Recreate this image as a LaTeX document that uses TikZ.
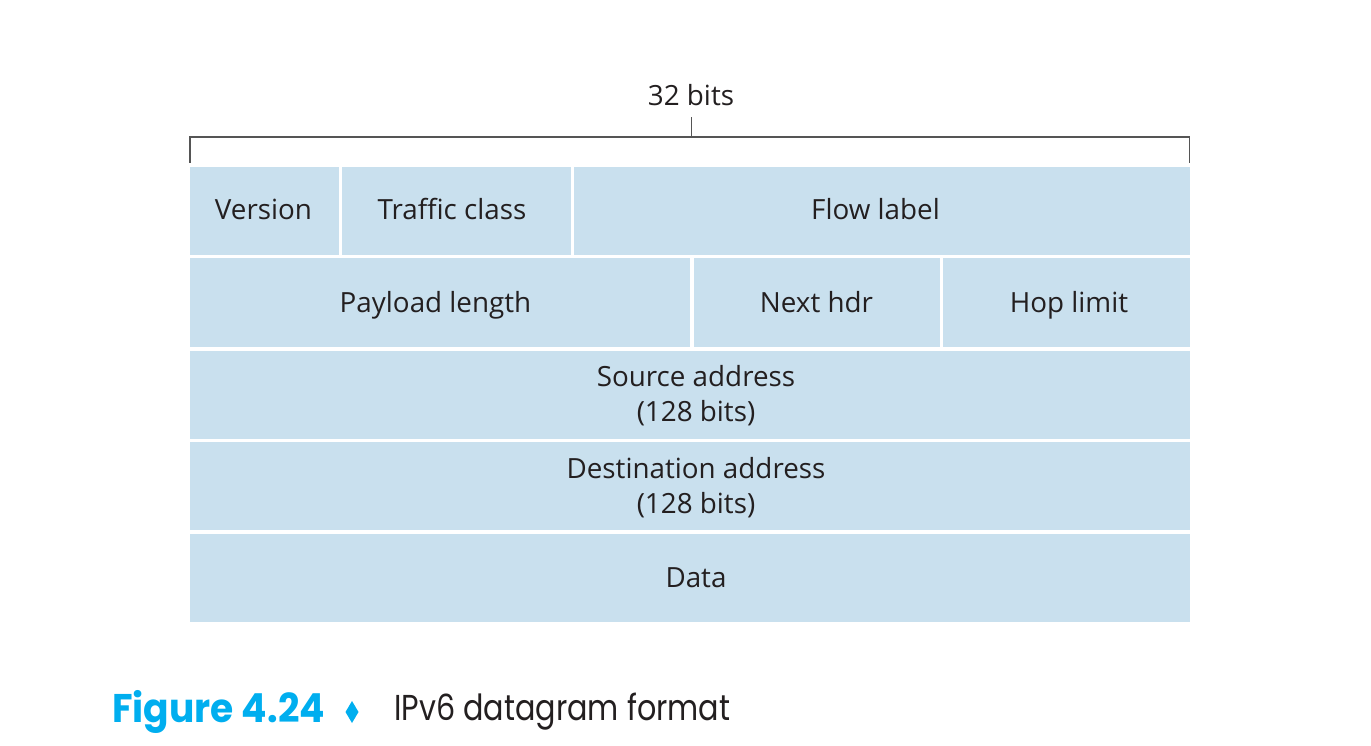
\documentclass[tikz,border=0pt]{standalone}
\usepackage{fontspec}
\setmainfont{Open Sans}
\newfontfamily\capfont{Poppins}
\definecolor{cellblue}{HTML}{C9E0EE}
\definecolor{inkdark}{HTML}{231F20}
\definecolor{figcyan}{HTML}{00AEEF}
\definecolor{brk}{HTML}{555555}
\tikzset{
  cell/.style={rectangle, fill=cellblue, draw=none, inner sep=0pt, minimum height=88pt},
  lbl/.style={anchor=base, inner sep=0pt, text=inkdark, font=\fontsize{27.8}{35.5}\selectfont, align=center},
  bracketline/.style={draw=brk, line width=1.5pt}
}
\begin{document}
\begin{tikzpicture}[x=1pt,y=-1pt]
\useasboundingbox (0,0) rectangle (1371,746);
% row 1
\node[cell, minimum width=149pt] (ver) at (264.5,211) {};
\node[cell, minimum width=229pt] (tc) at (456.5,211) {};
\node[cell, minimum width=616pt] (fl) at (882,211) {};
% row 2
\node[cell, minimum width=500pt] (pl) at (440,302.5) {};
\node[cell, minimum width=246pt] (nh) at (817,302.5) {};
\node[cell, minimum width=247pt] (hl) at (1066.5,302.5) {};
% rows 3-5
\node[cell, minimum width=1000pt] (src) at (690,394.5) {};
\node[cell, minimum width=1000pt] (dst) at (690,486) {};
\node[cell, minimum width=1000pt] (dat) at (690,578) {};
% labels
\node[lbl] (tver) at (263.5,220) {Version};
\node[lbl] (ttc) at (452,220) {Traffic class};
\node[lbl] (tfl) at (875.5,220) {Flow label};
\node[lbl] (tpl) at (435.5,312.5) {Payload length};
\node[lbl] (tnh) at (816.5,312.5) {Next hdr};
\node[lbl] (thl) at (1069,312.5) {Hop limit};
\node[lbl] (tsrc) at (696,421.5) {Source address\\(128 bits)};
\node[lbl] (tdst) at (696,513.5) {Destination address\\(128 bits)};
\node[lbl] (tdat) at (696,587) {Data};
% bracket
\coordinate (bl) at (190,163);
\coordinate (br) at (1189.5,163);
\coordinate (blt) at (190,137);
\coordinate (brt) at (1189.5,137);
\coordinate (bm) at (691.5,137);
\coordinate (bmt) at (691.5,117);
\draw[bracketline] (bl) -- (blt) -- (brt) -- (br);
\draw[bracketline, line width=1.2pt] (bm) -- (bmt);
\node[lbl] (bits) at (691,105.5) {32 bits};
% caption
\node[anchor=base west, inner sep=0pt, xscale=0.94, text=figcyan, font=\capfont\bfseries\fontsize{40}{40}\selectfont] (fig) at (112,722.5) {Figure 4.24};
\coordinate (dn) at (352,701);
\coordinate (de) at (358.5,712);
\coordinate (ds) at (352,723);
\coordinate (dw) at (345.5,712);
\fill[figcyan] (dn) -- (de) -- (ds) -- (dw) -- cycle;
\node[anchor=base west, inner sep=0pt, xscale=0.84, text=inkdark, font=\capfont\fontsize{36}{36}\selectfont] (cap) at (394,720) {IPv6 datagram format};
\end{tikzpicture}
\end{document}
